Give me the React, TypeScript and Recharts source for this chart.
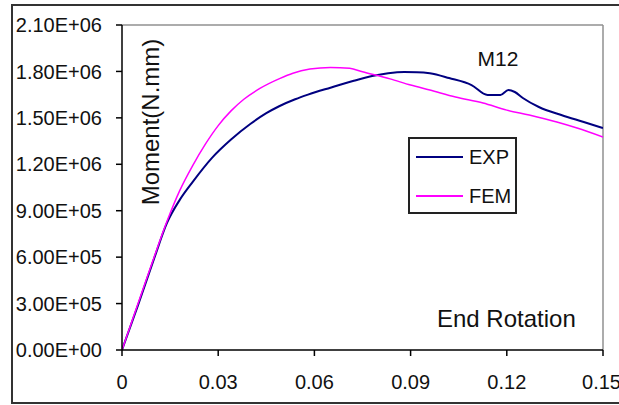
import { LineChart, Line, XAxis, YAxis, ReferenceLine, Customized } from "recharts";

const xTicks = [0, 0.03, 0.06, 0.09, 0.12, 0.15];
const yTicks = [0, 300000, 600000, 900000, 1200000, 1500000, 1800000, 2100000];

const expRotation = [0, 0.005, 0.01, 0.014, 0.018, 0.022, 0.028, 0.034, 0.04, 0.045, 0.049, 0.054, 0.058, 0.065, 0.072, 0.078, 0.083, 0.088, 0.092, 0.096, 0.102, 0.109, 0.114, 0.118, 0.1205, 0.1225, 0.125, 0.13, 0.137, 0.144, 0.15];
const expMoment = [0, 290000, 590000, 820000, 970000, 1085000, 1240000, 1360000, 1460000, 1530000, 1575000, 1620000, 1650000, 1695000, 1738000, 1770000, 1788000, 1796000, 1795000, 1788000, 1757000, 1712000, 1648000, 1648000, 1680000, 1667000, 1628000, 1570000, 1518000, 1473000, 1434000];

const femRotation = [0, 0.005, 0.01, 0.014, 0.018, 0.022, 0.026, 0.03, 0.034, 0.038, 0.043, 0.0493, 0.0533, 0.0586, 0.065, 0.071, 0.075, 0.0836, 0.09, 0.096, 0.104, 0.1126, 0.12, 0.127, 0.1356, 0.1419, 0.15];
const femMoment = [0, 300000, 600000, 830000, 1030000, 1190000, 1330000, 1450000, 1545000, 1620000, 1690000, 1755000, 1788000, 1815000, 1826000, 1820000, 1798000, 1752000, 1712000, 1680000, 1635000, 1596000, 1550000, 1518000, 1473000, 1434000, 1376000];

const series = [
  { name: "EXP", color: "#000080" },
  { name: "FEM", color: "#ff00ff" },
];

const expData = expRotation.map((t, i) => ({ t, m: expMoment[i] }));
const femData = femRotation.map((t, i) => ({ t, m: femMoment[i] }));

const FONT = "'Liberation Sans', Arial, sans-serif";

const sci = (v: number) => {
  const [mant, exp] = v.toExponential(2).split("e");
  const sign = exp.startsWith("-") ? "-" : "+";
  const digits = exp.replace(/[+-]/, "").padStart(2, "0");
  return `${mant}E${sign}${digits}`;
};

const LegendBox = () => (
  <div
    style={{
      position: "absolute",
      left: 408,
      top: 137,
      width: 109,
      height: 77,
      boxSizing: "border-box",
      border: "2px solid #222",
      background: "#fff",
      fontFamily: FONT,
      fontSize: 20,
      color: "#111",
    }}
  >
    {series.map((it, i) => (
      <div
        key={it.name}
        style={{ position: "absolute", left: 6, top: (i === 0 ? 18 : 57) - 12, height: 24, display: "flex", alignItems: "center" }}
      >
        <div style={{ width: 47, height: 2, background: it.color }} />
        <span style={{ marginLeft: 6, lineHeight: "24px" }}>{it.name}</span>
      </div>
    ))}
  </div>
);

const Labels = () => (
  <g fontFamily={FONT} fill="#111">
    <text x={151} y={122} fontSize={24} textAnchor="middle" dy="0.35em" transform="rotate(-90, 151, 122)">
      Moment(N.mm)
    </text>
    <text x={498} y={66} fontSize={21} textAnchor="middle">
      M12
    </text>
    <text x={437} y={327} fontSize={24} textAnchor="start">
      End Rotation
    </text>
  </g>
);

export default function App() {
  return (
    <div style={{ position: "fixed", left: 0, top: 0, width: 619, height: 405, overflow: "hidden", background: "#fff" }}>
      <div
        style={{
          position: "absolute",
          left: 11,
          top: 4,
          width: 640,
          height: 400,
          boxSizing: "border-box",
          border: "2px solid #333",
        }}
      />
      <div style={{ position: "absolute", left: 0, top: 0 }}>
        <LineChart
          width={619}
          height={405}
          margin={{ top: 25, right: 16, left: 0, bottom: 0 }}
          style={{ fontFamily: FONT }}
        >
          <XAxis
            dataKey="t"
            type="number"
            domain={[0, 0.15]}
            ticks={xTicks}
            tickFormatter={(v: number) => (v === 0 ? "0" : v.toFixed(2))}
            tick={{ fontSize: 20, fill: "#111" }}
            stroke="#000"
            strokeWidth={1.5}
            height={55}
            tickSize={6}
            tickMargin={19}
            allowDataOverflow
          />
          <YAxis
            type="number"
            domain={[0, 2100000]}
            ticks={yTicks}
            tickFormatter={sci}
            tick={{ fontSize: 20, fill: "#111" }}
            stroke="#000"
            strokeWidth={1.5}
            width={122}
            tickSize={6}
            tickMargin={14}
          />
          <ReferenceLine y={2100000} stroke="#909090" strokeWidth={1.5} />
          <ReferenceLine x={0.15} stroke="#909090" strokeWidth={1.5} />
          <Line
            data={expData}
            dataKey="m"
            name="EXP"
            type="monotone"
            stroke={series[0].color}
            strokeWidth={2}
            dot={false}
            isAnimationActive={false}
          />
          <Line
            data={femData}
            dataKey="m"
            name="FEM"
            type="monotone"
            stroke={series[1].color}
            strokeWidth={1.5}
            dot={false}
            isAnimationActive={false}
          />
          <Customized component={Labels} />
        </LineChart>
      </div>
      <LegendBox />
    </div>
  );
}
